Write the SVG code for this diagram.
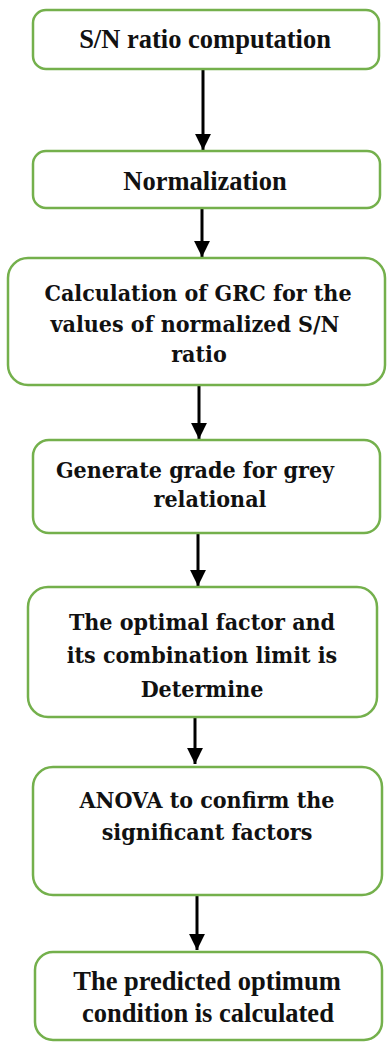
<svg xmlns="http://www.w3.org/2000/svg" width="387" height="1043" viewBox="0 0 387 1043">
  <defs>
    <marker id="ah" viewBox="0 0 10 10" refX="10" refY="5" markerWidth="5.3" markerHeight="5.3" markerUnits="strokeWidth" orient="auto">
      <path d="M0,0 L10,5 L0,10 Z" fill="#000"/>
    </marker>
    <style>
      .box { fill: #fff; stroke: #74b04c; stroke-width: 2.5; }
      .t1 { font-family: "Liberation Serif", "Times New Roman", serif; font-weight: bold; font-size: 26.5px; fill: #111; text-anchor: middle; }
      .t2 { font-family: "DejaVu Serif Condensed", "DejaVu Serif", serif; font-stretch: condensed; font-weight: bold; font-size: 23px; fill: #111; text-anchor: middle; }
      .conn { stroke: #000; stroke-width: 3; fill: none; marker-end: url(#ah); }
    </style>
  </defs>
  <rect width="387" height="1043" fill="#fff"/>

  <g id="connectors">
    <line class="conn" x1="203" y1="70" x2="203" y2="150"/>
    <line class="conn" x1="202" y1="209" x2="202" y2="257"/>
    <line class="conn" x1="199" y1="386" x2="199" y2="439"/>
    <line class="conn" x1="198" y1="534" x2="198" y2="586"/>
    <line class="conn" x1="195" y1="718" x2="195" y2="764"/>
    <line class="conn" x1="197" y1="896" x2="197" y2="950"/>
  </g>

  <g id="n1">
    <rect class="box" x="33" y="10" width="346" height="59" rx="13"/>
    <text class="t1" x="205" y="48" font-family="Liberation Serif, serif">S/N ratio computation</text>
  </g>
  <g id="n2">
    <rect class="box" x="33" y="151" width="347" height="57" rx="13"/>
    <text class="t1" x="205" y="190">Normalization</text>
  </g>
  <g id="n3">
    <rect class="box" x="8" y="258" width="377" height="127" rx="20"/>
    <text class="t2" x="198" y="301">Calculation of GRC for the</text>
    <text class="t2" x="195" y="332">values of normalized S/N</text>
    <text class="t2" x="199" y="362">ratio</text>
  </g>
  <g id="n4">
    <rect class="box" x="33" y="440" width="347" height="93" rx="16"/>
    <text class="t2" x="195" y="478">Generate grade for grey</text>
    <text class="t2" x="210" y="507">relational</text>
  </g>
  <g id="n5">
    <rect class="box" x="28" y="587" width="349" height="130" rx="20"/>
    <text class="t2" x="202" y="630">The optimal factor and</text>
    <text class="t2" x="202" y="663">its combination limit is</text>
    <text class="t2" x="202" y="697">Determine</text>
  </g>
  <g id="n6">
    <rect class="box" x="33" y="767" width="349" height="128" rx="20"/>
    <text class="t2" x="207" y="808">ANOVA to confirm the</text>
    <text class="t2" x="207" y="840">significant factors</text>
  </g>
  <g id="n7">
    <rect class="box" x="35" y="952" width="347" height="88" rx="18"/>
    <text class="t1" x="207" y="990">The predicted optimum</text>
    <text class="t1" x="208" y="1022">condition is calculated</text>
  </g>
</svg>
